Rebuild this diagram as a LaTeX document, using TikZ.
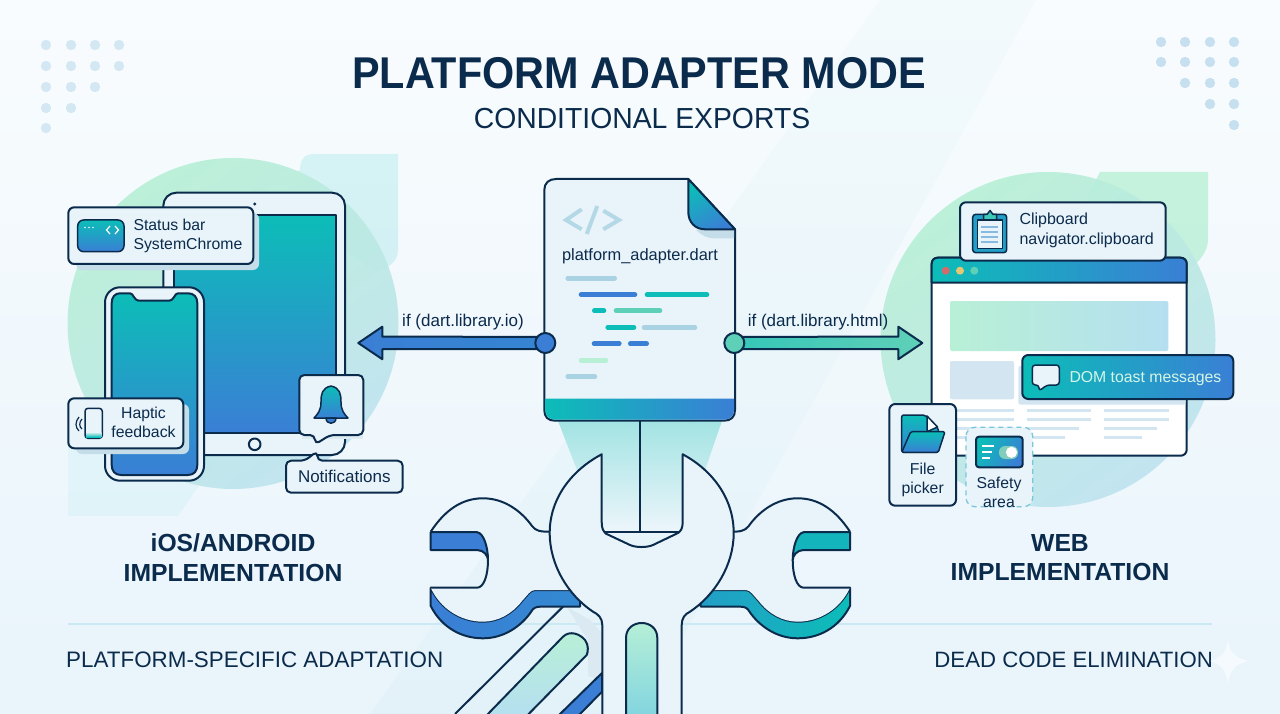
\documentclass[tikz,border=0pt]{standalone}
\usepackage{fontspec}
\setmainfont{Liberation Sans}
\newfontfamily\titlefam[FakeStretch=0.929]{Liberation Sans}
\newfontfamily\subfam[FakeStretch=0.977]{Liberation Sans}
\usetikzlibrary{calc,arrows.meta,shapes.geometric}
\definecolor{ink}{HTML}{0B2B4C}
\definecolor{blueA}{HTML}{3A7FD5}
\definecolor{tealA}{HTML}{0CBDB8}
\definecolor{mintA}{HTML}{5FD0B8}
\definecolor{mintL}{HTML}{B8F0D6}
\definecolor{skyL}{HTML}{B5DFF0}
\definecolor{cardF}{HTML}{E9F4FA}
\definecolor{shadowC}{HTML}{C5DCE9}
\definecolor{pale}{HTML}{D3E5F0}
\definecolor{dotC}{HTML}{D3E8F2}
\definecolor{codeP}{HTML}{A9D2E3}
\definecolor{bgEnd}{HTML}{E2F1FA}
\definecolor{circM}{HTML}{ABE8E0}
\definecolor{circR}{HTML}{BFE3EF}
\definecolor{funT}{HTML}{A3E3E3}
\definecolor{dotRed}{HTML}{D66A6A}
\definecolor{dotYel}{HTML}{E6C66E}
\tikzset{
  outline/.style={draw=ink,line width=2pt,line join=round},
  thin outline/.style={draw=ink,line width=1.5pt,line join=round},
  lbl/.style={inner sep=0pt,text=ink,font=\fontsize{15.8}{19}\selectfont,align=center},
  lbll/.style={lbl,anchor=base west,align=left},
  head/.style={inner sep=0pt,text=ink,font=\fontsize{24.7}{29.5}\bfseries\selectfont,align=center},
  cardbox/.style={outline,fill=cardF,rounded corners=6pt},
  cardshadow/.style={fill=shadowC,rounded corners=6pt},
  codeline/.style={line width=4.6pt,line cap=round},
  brline/.style={line width=3pt,draw=pale},
}
\newcommand{\wrenchside}[3]{%
  \path[outline,left color=#1,right color=#2]
    (430.7,587.7)--(430.7,606) .. controls (442,628) and (462,638.3) .. (483,638.3)
    .. controls (505,638.3) and (522,625) .. (531,612) .. controls (533,608) and (536,606.7) .. (540,606.7)
    --(580,606.7)--(580,590)--(535,590) .. controls (530,590) and (527,596) .. (522,601)
    .. controls (512,614) and (498,621.7) .. (483,621.7) .. controls (460,621.7) and (440,608) .. (430.7,587.7)--cycle;
  \path[fill=cardF]
    (430.7,531.7) .. controls (445,510) and (462,498.3) .. (483,498.3)
    .. controls (505,498.3) and (522,512) .. (532,526) .. controls (536,531) and (540,531.7) .. (550,531.7)
    --(580,531.7)--(580,590)--(535,590) .. controls (530,590) and (527,596) .. (522,601)
    .. controls (512,614) and (498,621.7) .. (483,621.7) .. controls (460,621.7) and (440,608) .. (430.7,587.7)
    --(477,587.7) .. controls (484,587.7) and (488,575) .. (488,560)
    .. controls (488,548) and (484,533) .. (477,531.7)--cycle;
  \draw[outline]
    (550,531.7) .. controls (540,531.7) and (536,531) .. (532,526)
    .. controls (522,512) and (505,498.3) .. (483,498.3) .. controls (462,498.3) and (445,510) .. (430.7,531.7);
  \path[outline,fill=#3]
    (430.7,532.2)--(477,532.2) .. controls (484,533) and (488,548) .. (488,560)
    .. controls (488,556) and (484,550) .. (477,550)--(430.7,550)--cycle;
  \draw[outline] (488,560) .. controls (488,575) and (484,587.7) .. (477,587.7)--(430.7,587.7);
}
\begin{document}
\begin{tikzpicture}[x=1pt,y=-1pt,line cap=butt]
\useasboundingbox (0,0) rectangle (1280,714);
% background
\begin{scope}
\clip (0,0) rectangle (1280,714);
\shade[shading angle=68,top color=white,bottom color=bgEnd] (-100,-280) rectangle (1380,1000);
\fill[teal!50!cyan,opacity=.022] (880,0)--(1036,0)--(640,714)--(370,714)--cycle;
\end{scope}
% corner dots
\foreach \dx/\dy in {46/45,71/45,95/45,119/45,46/66,71/66,95/66,119/66,46/87,71/87,95/87,46/108,71/108,46/128}{
  \fill[dotC] (\dx,\dy) circle[radius=5.2];}
\foreach \dx/\dy in {1161/42,1185/42,1210/42,1234/42,1161/62,1185/62,1210/62,1234/62,1185/83,1210/83,1234/83,1210/104,1234/104,1234/125}{
  \fill[dotC!92!blueA] (\dx,\dy) circle[radius=5.2];}
% divider
\draw[line width=1.2pt,draw=skyL!70!white] (68,624)--(1212,624);
% left backdrop
\fill[teal!50!cyan,opacity=.13] (300,170) .. controls (300,154) and (310,154) .. (316,154) -- (398,154)--(398,250) .. controls (398,262) and (388,268) .. (376,272)--(250,190)--cycle;
\fill[teal!40!cyan,opacity=.06] (68,440)--(68,516)--(178,516)--(230,440)--cycle;
\shade[left color=mintL,middle color=circM,right color=circR,opacity=.92,shading angle=35] (233,323.5) circle[radius=165.5];
% right backdrop
\fill[mintL,opacity=.8] (1100,172)--(1208,172)--(1208,240) .. controls (1208,250) and (1200,262) .. (1190,268)--(1060,250)--cycle;
\shade[left color=mintL,middle color=circM,right color=circR,opacity=.92,shading angle=35] (1048,339.5) circle[radius=167.5];
% ===== tablet =====
\path[outline,fill=cardF,rounded corners=13pt] (163.3,192.7) rectangle (345,455);
\path[outline,top color=tealA,bottom color=blueA] (174.3,215) rectangle (335.7,433.3);
\fill[ink] (254.7,204) circle[radius=1.7];
\draw[outline,fill=cardF] (254.7,444.3) circle[radius=5.8];
% phone
\path[outline,fill=cardF,rounded corners=15pt] (105,287.3) rectangle (204,480.7);
\path[outline,top color=tealA,bottom color=blueA]
  (120,293.3)--(130,293.3) .. controls (134,293.3) and (133,300.7) .. (140,300.7)--(168,300.7)
  .. controls (175,300.7) and (174,293.3) .. (178,293.3)--(188,293.3)
  .. controls (194,293.3) and (197.3,297) .. (197.3,303)--(197.3,465)
  .. controls (197.3,471) and (194,475) .. (188,475)--(121,475)
  .. controls (115,475) and (111.7,471) .. (111.7,465)--(111.7,303)
  .. controls (111.7,297) and (115,293.3) .. (120,293.3)--cycle;
% status bar card
\fill[cardshadow] (76,213) rectangle (259,270);
\path[cardbox] (68.3,207.3) rectangle (253.3,264);
\path[thin outline,rounded corners=6pt,top color=tealA,bottom color=blueA] (77.7,220) rectangle (124,251.7);
\foreach \dx in {85,89,93}{\fill[white,opacity=.9] (\dx,227.5) circle[radius=.9];}
\draw[white,line width=1.2pt] (110,226)--(106.5,230)--(110,234) (115,226)--(118.5,230)--(115,234);
\node[lbll] (statusA) at (133.3,231) {Status bar};
\node[lbll] (statusB) at (133.3,250) {SystemChrome};
% haptic card
\fill[cardshadow] (76,404) rectangle (189,454);
\path[cardbox] (68.3,398.3) rectangle (183.3,448.3);
\path[thin outline,rounded corners=3pt,fill=cardF] (85,408.3) rectangle (102.3,438.3);
\path[top color=cardF,bottom color=tealA] (86,432) rectangle (101.3,437);
\draw[ink,line width=1.2pt] (79,417) .. controls (75,422) and (75,427) .. (79,431);
\draw[ink,line width=1.2pt] (82,419) .. controls (79,422) and (79,427) .. (82,429);
\node[lbl,anchor=base] (hapticA) at (143.5,418.3) {Haptic};
\node[lbl,anchor=base] (hapticB) at (143.5,437.3) {feedback};
% bell card
\fill[shadowC!60!white] (302,380) rectangle (363.3,439);
\path[cardbox,rounded corners=5pt] (299.3,375) -- (363.3,375) -- (363.3,435) -- (330,435) -- (315,444.5) -- (315,435) -- (299.3,435) -- cycle;
\path[thin outline,top color=tealA,bottom color=blueA]
  (331,386) .. controls (340,388) and (341,394) .. (341,402) .. controls (341,410) and (344,414) .. (348,418)
  -- (314,418) .. controls (318,414) and (321,410) .. (321,402) .. controls (321,394) and (322,388) .. (331,386) -- cycle;
\path[thin outline,fill=blueA] (326,418) .. controls (326,425) and (336,425) .. (336,418) -- cycle;
% notifications
\path[cardbox,rounded corners=5pt] (286,460.7) -- (305,460.7) -- (317.3,451) -- (317.3,460.7) -- (402.7,460.7) -- (402.7,492.7) -- (286,492.7) -- cycle;
\node[lbl,font=\fontsize{17}{19}\selectfont] (notif) at (344.3,476.7) {Notifications};
% ===== funnel =====
\path[top color=funT,bottom color=cardF!85!white] (558,421) -- (722,421) -- (706,467) -- (682,532) -- (602,532) -- (577,470) -- cycle;
% ===== connectors =====
\coordinate (tipL) at (358.3,343);
\coordinate (tipR) at (922.3,343);
\coordinate (portLc) at (545.3,343);
\coordinate (portRc) at (734.3,343);
\path[outline,left color=blueA,right color=blueA!90!tealA]
  (tipL) -- ++(24,-16.3) -- ++(0,10) -- ($(portLc)+(0,-6.2)$) -- ($(portLc)+(0,6.2)$) -- ($(tipL)+(24,6.2)$) -- ++(0,10) -- cycle;
\path[outline,left color=tealA!50!mintA,right color=mintA]
  (tipR) -- ++(-24,-16.3) -- ++(0,10) -- ($(portRc)+(0,-6.2)$) -- ($(portRc)+(0,6.2)$) -- ($(tipR)+(-24,6.2)$) -- ++(0,10) -- cycle;
\node[lbl,anchor=base,font=\fontsize{17}{18}\selectfont] (ifL) at (463,326) {if (dart.library.io)};
\node[lbl,anchor=base,font=\fontsize{17}{18}\selectfont] (ifR) at (818,326) {if (dart.library.html)};
% ===== document =====
\path[outline,fill=cardF]
  (556,179) -- (688.3,179) -- (735,229.3) -- (735,410) .. controls (735,417) and (731,420.7) .. (724,420.7)
  -- (555,420.7) .. controls (548,420.7) and (544.3,417) .. (544.3,410) -- (544.3,190) .. controls (544.3,183) and (549,179) .. (556,179) -- cycle;
\path[left color=tealA,right color=blueA] (545.3,398.7) -- (734,398.7) -- (734,410) .. controls (734,416) and (730,419.7) .. (724,419.7)
  -- (555,419.7) .. controls (549,419.7) and (545.3,416) .. (545.3,410) -- cycle;
\fill[shadowC] (696,229.8) .. controls (702,236) and (708,238.5) .. (716,238.5) -- (734,238.5) -- (734,229.8) -- cycle;
\path[outline,left color=tealA,right color=blueA,shading angle=30]
  (688.3,179) -- (735,229.3) -- (705,229.3) .. controls (695,229.3) and (688.3,222) .. (688.3,212) -- cycle;
\draw[codeP,line width=4pt,opacity=.8] (581.7,209.3)--(566,220)--(581.7,229.3) (597.3,206)--(586.7,234) (603.3,210.7)--(619,220)--(603.3,229.3);
\node[lbl,anchor=base,font=\fontsize{16.4}{18}\selectfont] (fname) at (640,261) {platform\_adapter.dart};
\draw[codeline,draw=codeP] (567.7,278.3)--(614.7,278.3) (567.7,376.7)--(595,376.7);
\draw[codeline,draw=blueA] (581,294.7)--(635,294.7) (594,343.7)--(619.3,343.7) (630.3,343.7)--(646.7,343.7);
\draw[codeline,draw=tealA] (647,294.7)--(707,294.7) (594.3,310.7)--(604,310.7) (607.7,327.3)--(634,327.3);
\draw[codeline,draw=mintA] (616,310.7)--(660,310.7);
\draw[codeline,draw=codeP] (644,327.3)--(695,327.3);
\draw[codeline,draw=mintL] (581,360.3)--(606,360.3);
% ports
\node[circle,outline,fill=blueA,minimum size=20pt,inner sep=0pt] (portL) at (portLc) {};
\node[circle,outline,fill=mintA,minimum size=20pt,inner sep=0pt] (portR) at (portRc) {};
% ===== browser =====
\path[outline,fill=white,rounded corners=6pt] (931.7,257.7) rectangle (1186.7,455.7);
\path[outline,left color=tealA,right color=blueA] (931.7,282.7) -- (931.7,264) .. controls (931.7,260) and (934,257.7) .. (938,257.7) -- (1180,257.7) .. controls (1184,257.7) and (1186.7,260) .. (1186.7,264) -- (1186.7,282.7) -- cycle;
\fill[dotRed] (945.7,270.7) circle[radius=4];
\fill[dotYel] (960,270.7) circle[radius=4];
\fill[mintA] (974.3,270.7) circle[radius=4];
\path[left color=mintL,right color=skyL,rounded corners=2pt] (950,301) rectangle (1168.3,351);
\fill[pale,rounded corners=2pt] (950,361) rectangle (1014,399.3);
\fill[pale,rounded corners=2pt] (1018.3,366) rectangle (1185.5,404.5);
\foreach \yy in {410,419}{\draw[brline] (950,\yy)--(1014,\yy) (1027.3,\yy)--(1091,\yy) (1104.3,\yy)--(1169,\yy);}
\draw[brline] (950,428.3)--(1014,428.3) (1027.3,428.3)--(1079.3,428.3) (1104.3,428.3)--(1156.7,428.3);
\draw[brline] (950,437.3)--(1000,437.3) (1027.3,437.3)--(1065,437.3) (1104.3,437.3)--(1142.3,437.3);
% toast
\path[outline,left color=tealA,right color=blueA,rounded corners=6pt] (1022.3,355) rectangle (1233.3,399);
\path[thin outline,fill=cardF,rounded corners=3pt] (1032.3,365) -- (1059.3,365) -- (1059.3,385) -- (1047,385) -- (1039,391) -- (1039,385) -- (1032.3,385) -- cycle;
\node[lbl,text=mintL!60!white,anchor=base west] (toast) at (1069.3,382) {DOM toast messages};
% clipboard card
\path[cardbox] (960,202.3) rectangle (1165.7,260.7);
\path[thin outline,fill=tealA!50!blueA,rounded corners=3pt] (972.7,214.3) rectangle (1006.7,252.7);
\path[thin outline,fill=cardF] (977.3,220) rectangle (1002.3,248.3);
\path[thin outline,fill=mintA!60!tealA] (983.5,220) -- (983.5,214.5) -- (987,214.5) -- (990,210.5) -- (993,214.5) -- (996.5,214.5) -- (996.5,220) -- cycle;
\foreach \yy in {227,232,237,242}{\draw[codeP!70!blueA,line width=1.2pt] (981,\yy)--(998,\yy);}
\node[lbll,font=\fontsize{16}{19}\selectfont] (clipA) at (1019.3,225) {Clipboard};
\node[lbll,font=\fontsize{16}{19}\selectfont] (clipB) at (1019.3,244.3) {navigator.clipboard};
% file picker
\path[cardbox] (889.3,404) rectangle (956,505.7);
\path[thin outline,top color=tealA,bottom color=blueA,rounded corners=2pt] (901.7,415) -- (925,415) -- (938.3,428) -- (938.3,452.3) -- (901.7,452.3) -- cycle;
\path[thin outline,fill=white] (927,416) -- (937.5,427) -- (927,431.7) -- cycle;
\path[thin outline,top color=tealA,bottom color=blueA,rounded corners=1.5pt] (910.7,431.7) -- (945,431.7) -- (938.3,452.3) -- (901.7,452.3) -- cycle;
\node[lbl] (fileT) at (922.7,480) {File\\[0pt]picker};
% safety area
\path[fill=cardF,draw=blueA!45!tealA!60!white,line width=1.3pt,dash pattern=on 5pt off 4pt,rounded corners=9pt] (966,427.3) rectangle (1032.7,506.7);
\path[outline,left color=tealA,right color=blueA,rounded corners=3pt,shading angle=60] (976,436.7) rectangle (1022.7,467.3);
\draw[white,line width=1.2pt] (982,446)--(994,446) (982,452)--(992,452) (982,458)--(990,458);
\fill[mintL!70!teal,rounded corners=6pt] (999,446) rectangle (1018,459);
\fill[white] (1011.5,452.3) circle[radius=5.6];
\node[lbl] (safeT) at (999,492) {Safety\\[0pt]area};
% ===== headings =====
\node[inner sep=0pt,text=ink,font=\titlefam\fontsize{44.5}{50}\bfseries\selectfont] (title) at (639,73.5) {PLATFORM ADAPTER MODE};
\node[inner sep=0pt,text=ink,font=\subfam\fontsize{29}{34}\selectfont] (subtitle) at (642,118.5) {CONDITIONAL EXPORTS};
\node[head] (hLeft) at (233,557.5) {iOS/ANDROID\\IMPLEMENTATION};
\node[head] (hRight) at (1060,557.5) {WEB\\IMPLEMENTATION};
\node[inner sep=0pt,text=ink,font=\fontsize{22.4}{26}\selectfont,anchor=base west] (fLeft) at (66,667) {PLATFORM-SPECIFIC ADAPTATION};
\node[inner sep=0pt,text=ink,font=\fontsize{22.2}{26}\selectfont,anchor=base east] (fRight) at (1213,667) {DEAD CODE ELIMINATION};
\fill[white,opacity=.5] (1228,640) .. controls (1230,654) and (1236,658) .. (1249,661) .. controls (1236,664) and (1230,669) .. (1228,684) .. controls (1226,669) and (1220,664) .. (1210,661) .. controls (1220,658) and (1226,654) .. (1228,640) -- cycle;
% ===== diagonal wrench behind =====
\begin{scope}
\clip (420,600) rectangle (610,714);
\fill[pale!85!white] (566.7,606.7) -- (590,620) -- (602,633) -- (602,680) -- (588,676) -- (588,640) -- cycle;
\draw[outline] (573,596.7) -- (455,714);
\path[outline,top color=mintL,bottom color=skyL] (563,636.7) .. controls (570,630) and (580,634) .. (585,640) .. controls (589,645) and (588,652) .. (586.7,655) -- (526.7,716) -- (486,716) -- cycle;
\path[outline,fill=blueA] (602,673) -- (558,716) -- (578,716) -- (602,691.7) -- cycle;
\end{scope}
% ===== side wrenches =====
\draw[outline,fill=mintA!60!skyL] (543,560) ellipse[x radius=13,y radius=11];
\draw[outline,fill=mintA!60!skyL] (738,560) ellipse[x radius=12,y radius=11];
\wrenchside{blueA}{blueA!85!tealA}{blueA}
\begin{scope}[xshift=1280.7pt,xscale=-1]
\wrenchside{tealA!50!blueA}{tealA}{tealA!85!blueA}
\end{scope}
% ===== main wrench =====
\path[outline,fill=cardF]
  (601.7,454.3) -- (601.7,522) .. controls (601.7,528) and (603,531) .. (606,533.7)
  -- (630,545) .. controls (636,547.7) and (647,547.7) .. (653,545) -- (678,533)
  .. controls (681,531) and (682.7,528) .. (682.7,522) -- (682.7,454.3)
  .. controls (712,470) and (733.7,498) .. (733.7,533) .. controls (733.7,565) and (715,595) .. (690,611.7)
  .. controls (685,614) and (681.7,618) .. (681.7,625) -- (681.7,716) -- (602.3,716) -- (602.3,625)
  .. controls (602.3,618) and (598,614) .. (593,611.7) .. controls (568,595) and (549.7,565) .. (549.7,533)
  .. controls (549.7,498) and (572,470) .. (601.7,454.3) -- cycle;
\draw[outline] (605,531.7) -- (679,531.7);
\draw[outline] (640,421) -- (640,531.7);
\path[outline,top color=mintL,bottom color=skyL!70!tealA]
  (626,716) -- (626,638) .. controls (626,618) and (657.3,618) .. (657.3,638) -- (657.3,716) -- cycle;
\end{tikzpicture}
\end{document}
